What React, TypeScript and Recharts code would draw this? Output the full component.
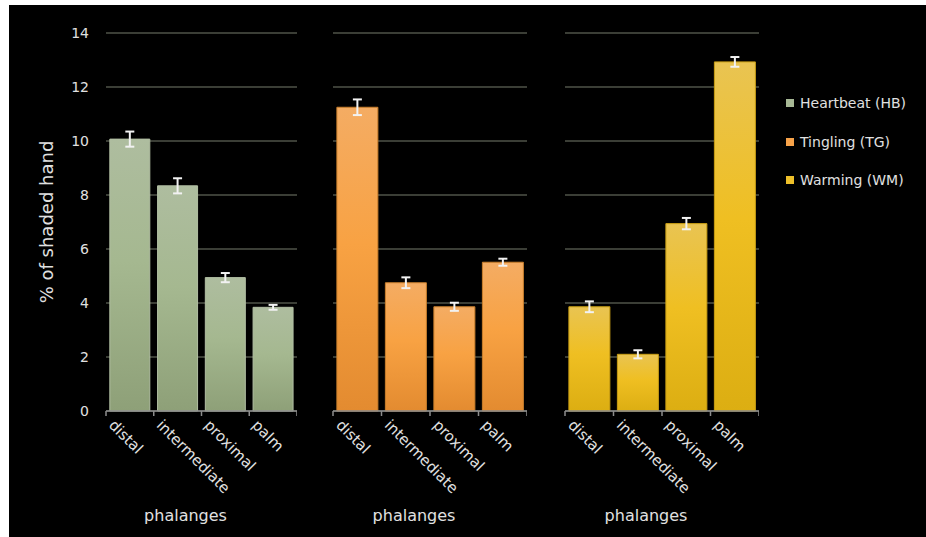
import React from 'react'
import { BarChart, Bar, XAxis, YAxis, CartesianGrid, ErrorBar } from 'recharts'

const categories = ['distal', 'intermediate', 'proximal', 'palm']
const yTicks = [0, 2, 4, 6, 8, 10, 12, 14]

const seriesNames = ['Heartbeat (HB)', 'Tingling (TG)', 'Warming (WM)']
const heartbeatValues = [10.07, 8.34, 4.94, 3.84]
const heartbeatErrors = [0.28, 0.28, 0.17, 0.09]
const tinglingValues = [11.25, 4.75, 3.86, 5.51]
const tinglingErrors = [0.29, 0.2, 0.15, 0.13]
const warmingValues = [3.86, 2.1, 6.94, 12.93]
const warmingErrors = [0.2, 0.15, 0.21, 0.18]

const FONT = '"DejaVu Sans", Verdana, sans-serif'
const TEXT = '#e0e0e0'
const AXIS = '#8c8c8c'
const GRID = '#3b3e36'

// chart geometry (page pixels)
const TOP = 5
const HEIGHT = 532
const PLOT_TOP = 28
const X_AXIS_H = 126
const PAD = 30 // room on the left of panels 2 and 3 for rotated labels

const panels = [
  { id: 'hb', name: seriesNames[0], values: heartbeatValues, errors: heartbeatErrors, plotLeft: 106, plotW: 191, yAxisW: 97, swatch: '#a7b895', stops: ['#aebd9f', '#a5b890', '#8ea078'], stroke: '#b2bfa3' },
  { id: 'tg', name: seriesNames[1], values: tinglingValues, errors: tinglingErrors, plotLeft: 333, plotW: 194, yAxisW: 0, swatch: '#f7a34a', stops: ['#f4ac63', '#f8a243', '#e38b30'], stroke: '#c97f2c' },
  { id: 'wm', name: seriesNames[2], values: warmingValues, errors: warmingErrors, plotLeft: 565, plotW: 194, yAxisW: 0, swatch: '#eec02a', stops: ['#e9c452', '#efbf22', '#dcae12'], stroke: '#c89e14' },
]

function PhalanxTick(props: any) {
  const { x, y, payload, band } = props
  const last = payload.value === categories[categories.length - 1]
  return (
    <g>
      <line x1={x - band / 2} x2={x - band / 2} y1={y} y2={y + 5} stroke={AXIS} strokeWidth={1.5} />
      {last && <line x1={x + band / 2} x2={x + band / 2} y1={y} y2={y + 5} stroke={AXIS} strokeWidth={1.5} />}
      <text
        transform={`translate(${x - 22},${y + 15}) rotate(45)`}
        fill={TEXT}
        fontSize={15}
        fontFamily={FONT}
      >
        {payload.value}
      </text>
    </g>
  )
}

function Panel({ panel }: { panel: typeof panels[number] }) {
  const data = categories.map((c, i) => ({ name: c, value: panel.values[i], err: panel.errors[i] }))
  const first = panel.yAxisW > 0
  const leftMargin = first ? 0 : PAD
  const chartLeft = panel.plotLeft - panel.yAxisW - leftMargin
  return (
    <div style={{ position: 'absolute', left: chartLeft, top: TOP }}>
      <BarChart
        width={leftMargin + panel.yAxisW + panel.plotW}
        height={HEIGHT}
        data={data}
        margin={{ top: PLOT_TOP, right: 0, bottom: 0, left: leftMargin }}
        barCategoryGap="8%"
      >
        <defs>
          <linearGradient id={`grad-${panel.id}`} x1="0" y1="0" x2="0" y2="1">
            <stop offset="0%" stopColor={panel.stops[0]} />
            <stop offset="45%" stopColor={panel.stops[1]} />
            <stop offset="100%" stopColor={panel.stops[2]} />
          </linearGradient>
        </defs>
        <CartesianGrid vertical={false} stroke={GRID} strokeWidth={2} />
        <XAxis
          dataKey="name"
          height={X_AXIS_H}
          interval={0}
          tickSize={0}
          tickMargin={0}
          axisLine={{ stroke: AXIS, strokeWidth: 1.5 }}
          tick={(p: any) => <PhalanxTick {...p} band={panel.plotW / categories.length} />}
          label={{ value: 'phalanges', position: 'insideBottom', offset: 16, dx: -16, fill: TEXT, fontSize: 16, fontFamily: FONT }}
        />
        <YAxis
          hide={!first}
          width={first ? panel.yAxisW : 0}
          domain={[0, 14]}
          ticks={yTicks}
          interval={0}
          axisLine={false}
          tickLine={false}
          tickSize={0}
          tickMargin={17}
          tick={{ fill: TEXT, fontSize: 14, fontFamily: FONT }}
          label={first ? { value: '% of shaded hand', angle: -90, position: 'center', dx: -11, fill: TEXT, fontSize: 18, fontFamily: FONT } : undefined}
        />
        <Bar dataKey="value" name={panel.name} fill={`url(#grad-${panel.id})`} stroke={panel.stroke} strokeWidth={1} isAnimationActive={false}>
          <ErrorBar dataKey="err" width={4.5} stroke="#f2f2f2" strokeWidth={2} direction="y" />
        </Bar>
      </BarChart>
    </div>
  )
}

export default function App() {
  return (
    <div style={{ position: 'absolute', left: 0, top: 0, width: 926, height: 537, background: '#fff', overflow: 'hidden' }}>
      <div style={{ position: 'absolute', left: 9, top: 5, right: 0, bottom: 0, background: '#000' }} />
      {panels.map((p) => (
        <Panel key={p.id} panel={p} />
      ))}
      {/* legend */}
      <div style={{ position: 'absolute', left: 786, top: 92, fontFamily: FONT, fontSize: 14, color: TEXT }}>
        {panels.map((p) => (
          <div key={p.id} style={{ display: 'flex', alignItems: 'center', height: 22, marginBottom: 16.5 }}>
            <span style={{ display: 'inline-block', width: 8, height: 8, background: p.swatch, marginRight: 6 }} />
            <span>{p.name}</span>
          </div>
        ))}
      </div>
    </div>
  )
}
